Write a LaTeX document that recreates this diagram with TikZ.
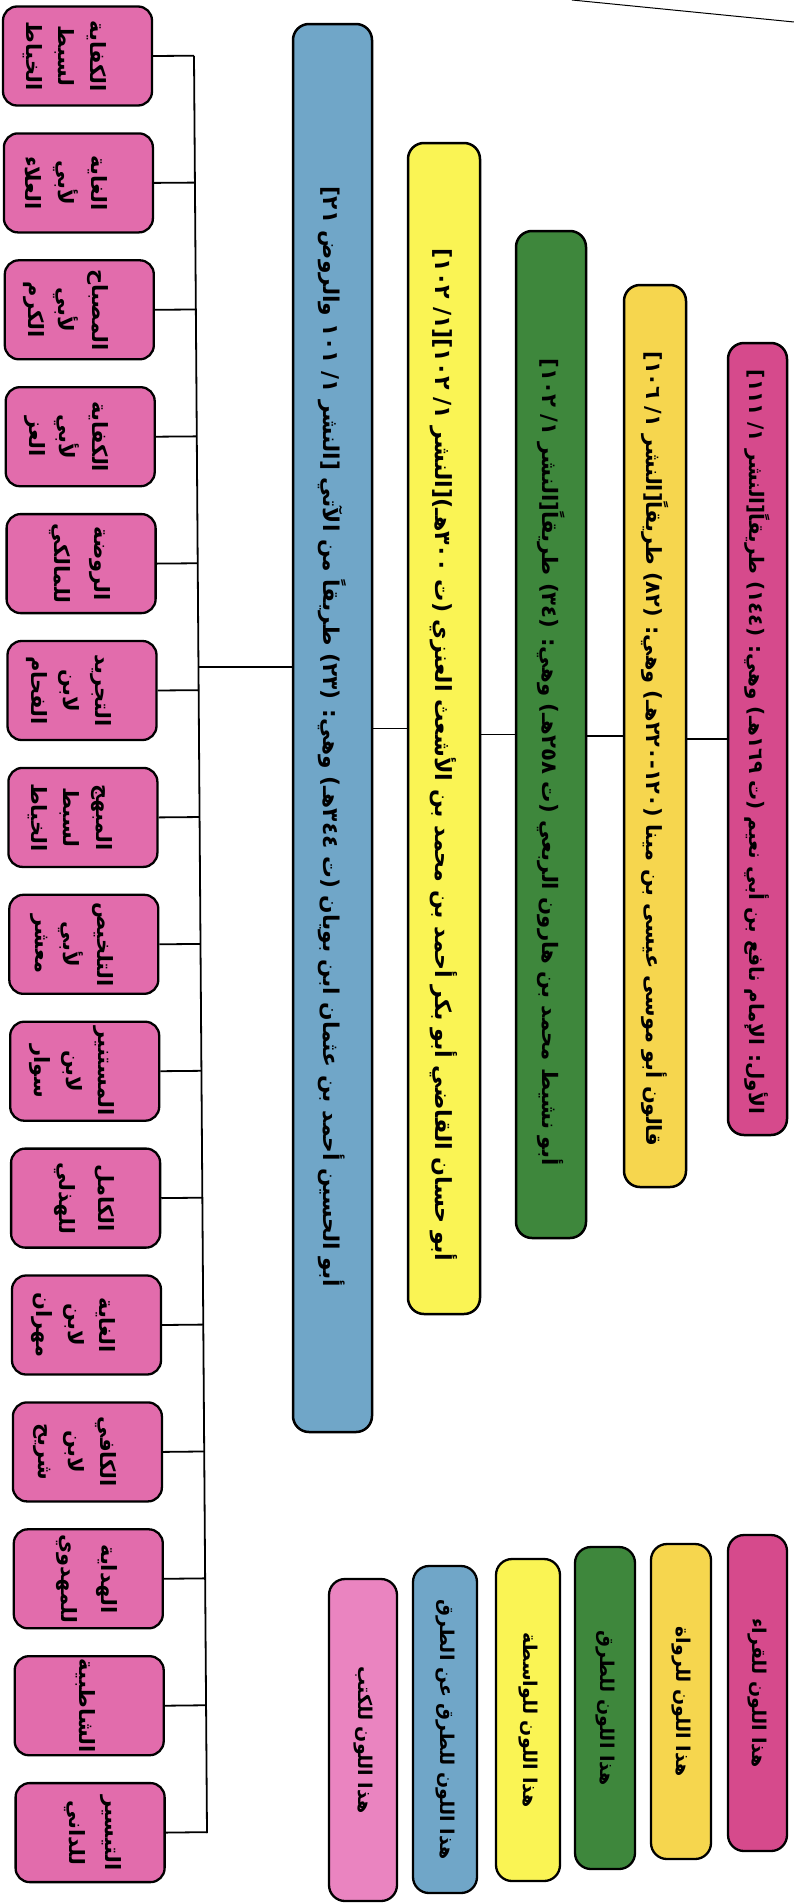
\documentclass[tikz,border=0pt]{standalone}
\usepackage{fontspec}
\usepackage{graphicx}
\usepackage{tikz}
\usetikzlibrary{calc}
\newfontfamily\arabicfont[Script=Arabic]{DejaVu Sans}
\TeXXeTstate=1
\definecolor{qaripink}{RGB}{214,74,140}
\definecolor{rawiyellow}{RGB}{246,214,78}
\definecolor{tariqgreen}{RGB}{62,135,60}
\definecolor{wasitayellow}{RGB}{250,244,84}
\definecolor{turuqblue}{RGB}{112,166,200}
\definecolor{kutubpink}{RGB}{226,108,172}
\definecolor{legendpink}{RGB}{234,132,192}

\begin{document}
\begin{tikzpicture}[x=1pt,y=1pt,yscale=-1,xscale=1,
  bar/.style={draw=black, line width=2.5pt, rounded corners=16pt, rotate=-90, inner sep=0pt},
  bartext/.style={rotate=-90, inner sep=0pt, font=\arabicfont\bfseries\fontsize{22}{26}\selectfont},
  kitab/.style={draw=black, line width=2.3pt, rounded corners=14pt, rotate=-90, fill=kutubpink, minimum width=99, minimum height=149, inner sep=0pt},
  kitabtext/.style={rotate=-90, inner sep=0pt, font=\arabicfont\bfseries\fontsize{21}{25}\selectfont},
  legendbox/.style={draw=black, line width=2.3pt, rounded corners=16pt, rotate=-90, inner sep=0pt, font=\arabicfont\bfseries\fontsize{19}{22}\selectfont}]
	\useasboundingbox (0,0) rectangle (794,1903);
	
	%Straight Lines (page edge)
	\draw [line width=1pt] (572,0) -- (794,22) ;
	
	%Shape: Rounded Rect (qurra)
	\draw (757.5,739) node [bar, fill=qaripink, minimum width=792, minimum height=59] (qari) {};
	%Shape: Rounded Rect (ruwat)
	\draw (655,736) node [bar, fill=rawiyellow, minimum width=902, minimum height=62] (rawi) {};
	%Shape: Rounded Rect (turuq)
	\draw (551,734.5) node [bar, fill=tariqgreen, minimum width=1007, minimum height=70] (tariq) {};
	%Shape: Rounded Rect (wasita)
	\draw (444,728.5) node [bar, fill=wasitayellow, minimum width=1171, minimum height=72] (wasita) {};
	%Shape: Rounded Rect (turuq an turuq)
	\draw (332.5,728) node [bar, fill=turuqblue, minimum width=1408, minimum height=79] (turuq) {};
	
	% Text Node
	\draw (757,742) node [bartext] (qaritxt) {\resizebox{744pt}{!}{\beginR الأول: الإمام نافع بن أبي نعيم (ت ١٦٩هـ) وهي: (١٤٤) طريقاً[النشر ١/ ١١١]\endR}};
	% Text Node
	\draw (655,749) node [bartext] (rawitxt) {\resizebox{795pt}{!}{\beginR قالون أبو موسى عيسى بن مينا (١٢٠-٢٢٠هـ) وهي: (٨٢) طريقاً[النشر ١/ ١٠٦]\endR}};
	% Text Node
	\draw (551,762) node [bartext] (tariqtxt) {\resizebox{807pt}{!}{\beginR أبو نشيط محمد بن هارون الربعي (ت ٢٥٨هـ) وهي: (٣٤) طريقاً[النشر ١/ ١٠٢]\endR}};
	% Text Node
	\draw (444,755) node [bartext] (wasitatxt) {\resizebox{1013pt}{!}{\beginR أبو حسان القاضي أبو بكر أحمد بن محمد بن الأشعث العنزي (ت ٣٠٠هـ)[النشر ١/ ١٠٢][١/ ١٠٢]\endR}};
	% Text Node
	\draw (332,737) node [bartext] (turuqtxt) {\resizebox{1100pt}{!}{\beginR أبو الحسين أحمد بن عثمان ابن بويان (ت ٣٤٤هـ) وهي: (٢٣) طريقاً من الآتي [النشر ١/ ١٠١ والروض ٢١]\endR}};
	
	%Straight Lines
	\draw [line width=1.8pt] (qari.south) -- (qari.south -| rawi.north) ;
	\draw [line width=1.8pt] (rawi.south) -- (rawi.south -| tariq.north) ;
	\draw [line width=1.8pt] (tariq.south) -- (tariq.south -| wasita.north) ;
	\draw [line width=1.8pt] (wasita.south) -- (wasita.south -| turuq.north) ;
	
	%Shape: Rounded Rect (books)
	\draw (77.5,56) node [kitab] (k1) {};
	\draw (78.4,182.9) node [kitab] (k2) {};
	\draw (79.3,309.8) node [kitab] (k3) {};
	\draw (80.2,436.7) node [kitab] (k4) {};
	\draw (81.1,563.6) node [kitab] (k5) {};
	\draw (82,690.5) node [kitab] (k6) {};
	\draw (82.9,817.4) node [kitab] (k7) {};
	\draw (83.8,944.3) node [kitab] (k8) {};
	\draw (84.7,1071.2) node [kitab] (k9) {};
	\draw (85.6,1198.1) node [kitab] (k10) {};
	\draw (86.5,1325) node [kitab] (k11) {};
	\draw (87.4,1451.9) node [kitab] (k12) {};
	\draw (88.3,1578.8) node [kitab] (k13) {};
	\draw (89.2,1705.7) node [kitab] (k14) {};
	\draw (90.1,1832.6) node [kitab] (k15) {};
	
	% Text Node (books)
	\draw ([xshift=19pt]k1.center) node [kitabtext] (k1a) {الكفاية};
	\draw ([xshift=-13pt]k1.center) node [kitabtext] (k1b) {لسبط};
	\draw ([xshift=-45pt]k1.center) node [kitabtext] (k1c) {الخياط};
	\draw ([xshift=19pt]k2.center) node [kitabtext] (k2a) {الغاية};
	\draw ([xshift=-13pt]k2.center) node [kitabtext] (k2b) {لأبي};
	\draw ([xshift=-45pt]k2.center) node [kitabtext] (k2c) {العلاء};
	\draw ([xshift=19pt]k3.center) node [kitabtext] (k3a) {المصباح};
	\draw ([xshift=-13pt]k3.center) node [kitabtext] (k3b) {لأبي};
	\draw ([xshift=-45pt]k3.center) node [kitabtext] (k3c) {الكرم};
	\draw ([xshift=19pt]k4.center) node [kitabtext] (k4a) {الكفاية};
	\draw ([xshift=-13pt]k4.center) node [kitabtext] (k4b) {لأبي};
	\draw ([xshift=-45pt]k4.center) node [kitabtext] (k4c) {العز};
	\draw ([xshift=19pt]k5.center) node [kitabtext] (k5a) {الروضة};
	\draw ([xshift=-21pt]k5.center) node [kitabtext] (k5b) {للمالكي};
	\draw ([xshift=19pt]k6.center) node [kitabtext] (k6a) {التجريد};
	\draw ([xshift=-13pt]k6.center) node [kitabtext] (k6b) {لابن};
	\draw ([xshift=-45pt]k6.center) node [kitabtext] (k6c) {الفحام};
	\draw ([xshift=19pt]k7.center) node [kitabtext] (k7a) {المبهج};
	\draw ([xshift=-13pt]k7.center) node [kitabtext] (k7b) {لسبط};
	\draw ([xshift=-45pt]k7.center) node [kitabtext] (k7c) {الخياط};
	\draw ([xshift=19pt]k8.center) node [kitabtext] (k8a) {التلخيص};
	\draw ([xshift=-13pt]k8.center) node [kitabtext] (k8b) {لأبي};
	\draw ([xshift=-45pt]k8.center) node [kitabtext] (k8c) {معشر};
	\draw ([xshift=19pt]k9.center) node [kitabtext] (k9a) {المستنير};
	\draw ([xshift=-13pt]k9.center) node [kitabtext] (k9b) {لابن};
	\draw ([xshift=-45pt]k9.center) node [kitabtext] (k9c) {سوار};
	\draw ([xshift=19pt]k10.center) node [kitabtext] (k10a) {الكامل};
	\draw ([xshift=-21pt]k10.center) node [kitabtext] (k10b) {للهذلي};
	\draw ([xshift=19pt]k11.center) node [kitabtext] (k11a) {الغاية};
	\draw ([xshift=-13pt]k11.center) node [kitabtext] (k11b) {لابن};
	\draw ([xshift=-45pt]k11.center) node [kitabtext] (k11c) {مهران};
	\draw ([xshift=19pt]k12.center) node [kitabtext] (k12a) {الكافي};
	\draw ([xshift=-13pt]k12.center) node [kitabtext] (k12b) {لابن};
	\draw ([xshift=-45pt]k12.center) node [kitabtext] (k12c) {شريح};
	\draw ([xshift=19pt]k13.center) node [kitabtext] (k13a) {الهداية};
	\draw ([xshift=-21pt]k13.center) node [kitabtext] (k13b) {للمهدوي};
	\draw ([xshift=-4pt]k14.center) node [kitabtext] (k14a) {الشاطبية};
	\draw ([xshift=21pt]k15.center) node [kitabtext] (k15a) {التيسير};
	\draw ([xshift=-15pt]k15.center) node [kitabtext] (k15b) {للداني};
	
	%Straight Lines (trunk)
	\coordinate (trunkTop) at (194,56) ;
	\coordinate (trunkBot) at (207,1833) ;
	\coordinate (fork) at (198.5,667) ;
	\draw [line width=1.8pt] (trunkTop) -- (trunkBot) ;
	\draw [line width=1.8pt] (turuq.south |- fork) -- (fork) ;
	\draw [line width=1.8pt] (k1.north) -- ($(trunkTop)!(k1.north)!(trunkBot)$) ;
	\draw [line width=1.8pt] (k2.north) -- ($(trunkTop)!(k2.north)!(trunkBot)$) ;
	\draw [line width=1.8pt] (k3.north) -- ($(trunkTop)!(k3.north)!(trunkBot)$) ;
	\draw [line width=1.8pt] (k4.north) -- ($(trunkTop)!(k4.north)!(trunkBot)$) ;
	\draw [line width=1.8pt] (k5.north) -- ($(trunkTop)!(k5.north)!(trunkBot)$) ;
	\draw [line width=1.8pt] (k6.north) -- ($(trunkTop)!(k6.north)!(trunkBot)$) ;
	\draw [line width=1.8pt] (k7.north) -- ($(trunkTop)!(k7.north)!(trunkBot)$) ;
	\draw [line width=1.8pt] (k8.north) -- ($(trunkTop)!(k8.north)!(trunkBot)$) ;
	\draw [line width=1.8pt] (k9.north) -- ($(trunkTop)!(k9.north)!(trunkBot)$) ;
	\draw [line width=1.8pt] (k10.north) -- ($(trunkTop)!(k10.north)!(trunkBot)$) ;
	\draw [line width=1.8pt] (k11.north) -- ($(trunkTop)!(k11.north)!(trunkBot)$) ;
	\draw [line width=1.8pt] (k12.north) -- ($(trunkTop)!(k12.north)!(trunkBot)$) ;
	\draw [line width=1.8pt] (k13.north) -- ($(trunkTop)!(k13.north)!(trunkBot)$) ;
	\draw [line width=1.8pt] (k14.north) -- ($(trunkTop)!(k14.north)!(trunkBot)$) ;
	\draw [line width=1.8pt] (k15.north) -- ($(trunkTop)!(k15.north)!(trunkBot)$) ;
	
	%Shape: Rounded Rect (legend)
	\draw (757.5,1693) node [legendbox, fill=qaripink, minimum width=316, minimum height=59] (key1) {\beginR هذا اللون للقراء\endR};
	\draw (681,1701.5) node [legendbox, fill=rawiyellow, minimum width=315, minimum height=60] (key2) {\beginR هذا اللون للرواة\endR};
	\draw (605,1708) node [legendbox, fill=tariqgreen, minimum width=322, minimum height=60] (key3) {\beginR هذا اللون للطرق\endR};
	\draw (528,1720) node [legendbox, fill=wasitayellow, minimum width=322, minimum height=64] (key4) {\beginR هذا اللون للواسطة\endR};
	\draw (445,1729.5) node [legendbox, fill=turuqblue, minimum width=327, minimum height=64] (key5) {\beginR هذا اللون للطرق عن الطرق\endR};
	\draw (363,1740) node [legendbox, fill=legendpink, minimum width=322, minimum height=68] (key6) {\beginR هذا اللون للكتب\endR};
	
\end{tikzpicture}
\end{document}
